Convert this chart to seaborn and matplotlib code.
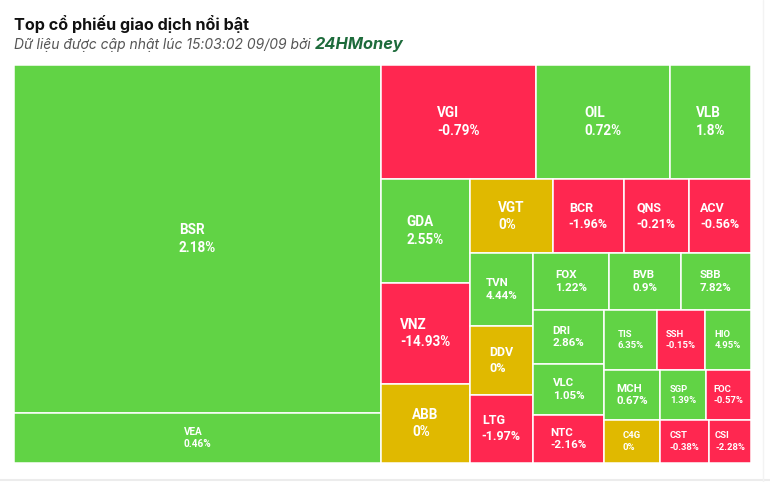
import math
import seaborn as sns
import matplotlib.pyplot as plt
from matplotlib.lines import Line2D

# Tickers, relative trading size (tile area) and daily change in %
tickers = ["BSR", "VEA", "VGI", "OIL", "VLB", "GDA", "VNZ", "ABB", "VGT", "BCR",
           "QNS", "ACV", "TVN", "DDV", "LTG", "FOX", "BVB", "SBB", "DRI", "VLC",
           "NTC", "TIS", "SSH", "HIO", "MCH", "C4G", "SGP", "FOC", "CST", "CSI"]
values = [127716, 18350, 17670, 15390, 9200, 9180, 8989, 7031, 6142, 5254,
          4810, 4600, 4590, 4347, 4330, 4320, 4104, 3990, 3834, 3621,
          3408, 3180, 2880, 2790, 2780, 2408, 2300, 2250, 2107, 1806]
changes = [2.18, 0.46, -0.79, 0.72, 1.8, 2.55, -14.93, 0, 0, -1.96,
           -0.21, -0.56, 4.44, 0, -1.97, 1.22, 0.9, 7.82, 2.86, 1.05,
           -2.16, 6.35, -0.15, 4.95, 0.67, 0, 1.39, -0.57, -0.38, -2.28]

# label font size in px (style only)
big = ["BSR", "VGI", "OIL", "VLB", "GDA", "VNZ", "ABB", "VGT"]
mid = ["BCR", "LTG", "QNS", "ACV", "DDV"]
small = ["TIS", "SSH", "HIO", "SGP", "FOC", "C4G", "CST", "CSI"]

GREEN, RED, YELLOW = "#61d345", "#ff2750", "#e0b900"


def aspect(w, h):
    if math.isnan(w) or math.isnan(h) or w == 0 or h == 0:
        return float("nan")
    return max(w / h, h / w)


def div(a, b):
    if b == 0 or math.isnan(a):
        return float("nan")
    return a / b


class Group:
    # same bookkeeping as the Highcharts "squarified" layout
    def __init__(self, h, w):
        self.height, self.width, self.direction = h, w, 0
        self.total = 0.0
        self.nW = self.lW = self.nH = self.lH = 0.0
        self.el = []
        self.lR = self.nR = float("nan")

    def add(self, a):
        last = self.el[-1] if self.el else float("nan")
        self.total += a
        if self.direction == 0:
            self.lW = self.nW
            self.lR = aspect(self.lW, div(last, self.lW))
            self.nW = self.total / self.height
            self.nR = aspect(self.nW, div(last, self.nW))
        else:
            self.lH = self.nH
            self.lR = aspect(div(last, self.lH), self.lH)
            self.nH = self.total / self.width
            self.nR = aspect(div(last, self.nH), self.nH)
        self.el.append(a)

    def reset(self):
        self.nW = self.lW = 0.0
        self.el = []
        self.total = 0.0


def squarified(vals, W, H):
    tot = sum(vals)
    areas = [W * H * v / tot for v in vals]
    g = Group(H, W)
    plot = {"x": 0.0, "y": 0.0}
    out = []

    def calc(last):
        gW, gH = (g.nW, g.nH) if last else (g.lW, g.lH)
        end = len(g.el) - 1
        keep = None if last else g.el[end]
        for i, p in enumerate(g.el):
            if last or i < end:
                if g.direction == 0:
                    out.append((plot["x"], plot["y"], gW, p / gW))
                    plot["y"] += p / gW
                else:
                    out.append((plot["x"], plot["y"], p / gH, gH))
                    plot["x"] += p / gH
        g.reset()
        if g.direction == 0:
            g.width -= gW
        else:
            g.height -= gH
        plot["y"] = H - g.height
        plot["x"] = W - g.width
        g.direction = 1 - g.direction
        if not last:
            g.add(keep)

    for i, a in enumerate(areas):
        g.add(a)
        if g.nR > g.lR:
            calc(False)
        if i == len(areas) - 1:
            calc(True)
    return out


sns.set_theme(style="white")
plt.rcParams["font.family"] = ["Roboto", "DejaVu Sans"]

fig = plt.figure(figsize=(7.7, 4.82), dpi=100)
W, H = 737, 398
ax = fig.add_axes([14 / 770, (482 - 463) / 482, W / 770, H / 482])

rects = squarified(values, W, H)
for (x, y, w, h), t, c in zip(rects, tickers, changes):
    col = GREEN if c > 0 else (RED if c < 0 else YELLOW)
    ax.bar(x, h, width=w, bottom=y, align="edge", color=col,
           edgecolor="white", linewidth=1.1)
    if t in big:
        px = 13.5
    elif t in mid:
        px = 12.5
    elif t in small:
        px = 9.5
    elif t == "VEA":
        px = 10
    else:
        px = 11.5
    ax.text(x + w / 2, y + h / 2, f"{t}\n{c:g}%", ha="center", va="center",
            multialignment="left", color="white", fontweight="bold",
            fontsize=px * 0.72, linespacing=1.3)

ax.set_xlim(0, W)
ax.set_ylim(H, 0)
ax.set_axis_off()

fig.text(14 / 770, 1 - 24 / 482, "Top cổ phiếu giao dịch nổi bật", family=["Inter", "DejaVu Sans"],
         fontweight="bold", fontsize=11.6, color="#111111", va="center")
sub = fig.text(14 / 770, 1 - 45 / 482, "Dữ liệu được cập nhật lúc 15:03:02 09/09 bởi ",
               family=["Inter", "DejaVu Sans"], style="italic", fontsize=10,
               color="#555555", va="center")
fig.canvas.draw()
bb = sub.get_window_extent()
fig.text(bb.x1 / 770, 1 - 45 / 482, "24HMoney", family=["Inter", "DejaVu Sans"],
         style="italic", fontweight="bold", fontsize=11.8, color="#1d6b3b", va="center")

fig.add_artist(Line2D([0, 1], [2 / 482, 2 / 482], color="#ececec", lw=1.5))
fig.add_artist(Line2D([763 / 770, 763 / 770], [0, 1], color="#f3f3f3", lw=1))

fig.savefig("out.png", dpi=100)
